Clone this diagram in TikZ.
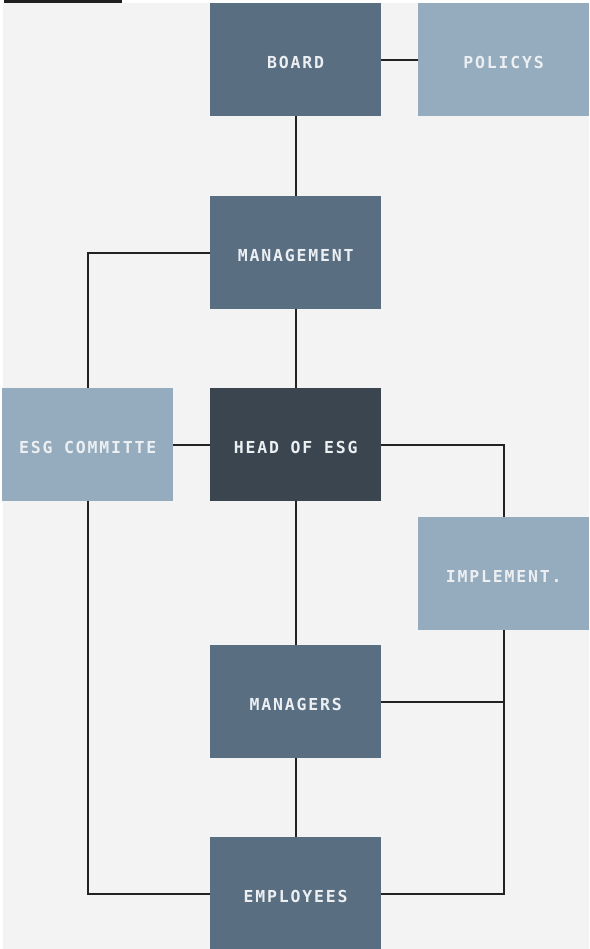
\documentclass[tikz,border=0pt]{standalone}
\usepackage{fontspec}
\newfontfamily\boxfont{DejaVu Sans Mono}[LetterSpace=11,BoldFont={DejaVu Sans Mono Bold}]
\definecolor{bgc}{HTML}{F3F3F3}
\definecolor{midc}{HTML}{5A6E82}
\definecolor{lightc}{HTML}{95ABBE}
\definecolor{darkc}{HTML}{3A4550}
\definecolor{linec}{HTML}{222222}
\definecolor{txtc}{HTML}{ECEFF2}
\begin{document}
\begin{tikzpicture}[x=1pt,y=-1pt,
  orgbox/.style={rectangle, inner sep=0pt, minimum width=171pt, minimum height=113pt,
    text=txtc, font=\fontsize{16.5}{19}\boxfont\bfseries,
    text height=17pt, text depth=0pt, anchor=north west},
  midbox/.style={orgbox, fill=midc},
  lightbox/.style={orgbox, fill=lightc},
  darkbox/.style={orgbox, fill=darkc},
  conn/.style={draw=linec, line width=2.2pt}]
\useasboundingbox (0,0) rectangle (589,949);
\fill[white] (0,0) rectangle (589,949);
\fill[bgc] (3,3) rectangle (589,949);
\fill[black!88] (4,0) rectangle (122,3.5);

\node[midbox] (board) at (210,3) {BOARD};
\node[lightbox] (policys) at (418,3) {POLICYS};
\node[midbox] (mgmt) at (210,196) {MANAGEMENT};
\node[lightbox] (esg) at (2,388) {ESG COMMITTE};
\node[darkbox] (head) at (210,388) {HEAD OF ESG};
\node[lightbox] (impl) at (418,517) {IMPLEMENT.};
\node[midbox] (managers) at (210,645) {MANAGERS};
\node[midbox] (employees) at (210,837) {EMPLOYEES};

\draw[conn] (board.east) -- (policys.west);
\draw[conn] (board.south) -- (mgmt.north);
\draw[conn] (mgmt.south) -- (head.north);
\draw[conn] (mgmt.west) -| (esg.north);
\draw[conn] (esg.east) -- (head.west);
\draw[conn] (head.east) -| (impl.north);
\draw[conn] (head.south) -- (managers.north);
\draw[conn] (managers.south) -- (employees.north);
\draw[conn] (managers.east) -- (managers.east -| impl.south);
\draw[conn] (impl.south) |- (employees.east);
\draw[conn] (esg.south) |- (employees.west);
\end{tikzpicture}
\end{document}
